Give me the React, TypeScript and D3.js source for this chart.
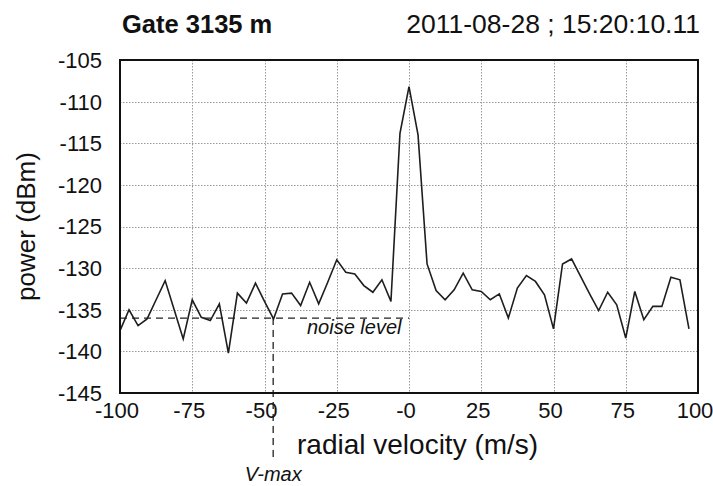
import { useEffect, useRef } from "react"
import * as d3 from "d3"

const velocities = [
  -100, -96.875, -93.75, -90.625, -87.5, -84.375, -81.25, -78.125,
  -75, -71.875, -68.75, -65.625, -62.5, -59.375, -56.25, -53.125,
  -50, -46.875, -43.75, -40.625, -37.5, -34.375, -31.25, -28.125,
  -25, -21.875, -18.75, -15.625, -12.5, -9.375, -6.25, -3.125,
  0, 3.125, 6.25, 9.375, 12.5, 15.625, 18.75, 21.875,
  25, 28.125, 31.25, 34.375, 37.5, 40.625, 43.75, 46.875,
  50, 53.125, 56.25, 59.375, 62.5, 65.625, 68.75, 71.875,
  75, 78.125, 81.25, 84.375, 87.5, 90.625, 93.75, 96.875,
]
const power = [
  -137.5, -135.0, -136.9, -136.1, -133.8, -131.5, -135.0, -138.5,
  -133.8, -135.9, -136.3, -134.3, -140.2, -133.0, -134.2, -131.8,
  -134.0, -136.1, -133.1, -133.0, -134.5, -131.7, -134.3, -131.7,
  -129.0, -130.5, -130.7, -132.1, -132.9, -131.4, -134.0, -113.8,
  -108.2, -114.0, -129.5, -132.7, -133.8, -132.6, -130.6, -132.6,
  -132.8, -133.8, -133.1, -136.0, -132.4, -130.9, -131.6, -133.2,
  -137.3, -129.5, -128.9, -131.0, -133.1, -135.1, -132.9, -134.4,
  -138.4, -132.8, -136.2, -134.6, -134.6, -131.1, -131.4, -137.3,
]
const xTicks = [-100, -75, -50, -25, 0, 25, 50, 75, 100]
const xTickLabels = ["-100", "-75", "-50", "-25", "-0", "25", "50", "75", "100"]
const yTicks = [-105, -110, -115, -120, -125, -130, -135, -140, -145]

const noiseLevel = -136
const vMax = -47

const FONT = "'Liberation Sans', Arial, sans-serif"

export default function App() {
  const svgRef = useRef<SVGSVGElement>(null)

  useEffect(() => {
    const svgEl = svgRef.current
    if (!svgEl) return
    const W = 713
    const H = 486
    const margin = { top: 60, right: 15, bottom: 93, left: 120 }

    const svg = d3.select(svgEl)
    svg.selectAll("*").remove()

    const x = d3.scaleLinear().domain([-100, 100]).range([margin.left, W - margin.right])
    const y = d3.scaleLinear().domain([-145, -105]).range([H - margin.bottom, margin.top])

    // grid
    const grid = svg.append("g").attr("stroke", "#9a9a9a").attr("stroke-width", 1)
      .attr("stroke-dasharray", "1.5,1.5")
    grid.selectAll("line.v").data(xTicks.slice(1, -1)).join("line")
      .attr("x1", d => Math.round(x(d)) + 0.5).attr("x2", d => Math.round(x(d)) + 0.5)
      .attr("y1", y(-105)).attr("y2", y(-145))
    grid.selectAll("line.h").data(yTicks.slice(1, -1)).join("line")
      .attr("class", "h")
      .attr("x1", x(-100)).attr("x2", x(100))
      .attr("y1", d => Math.round(y(d)) + 0.5).attr("y2", d => Math.round(y(d)) + 0.5)

    // noise level + V-max markers
    svg.append("line")
      .attr("x1", x(-100)).attr("x2", x(0))
      .attr("y1", y(noiseLevel)).attr("y2", y(noiseLevel))
      .attr("stroke", "#222").attr("stroke-width", 1.3).attr("stroke-dasharray", "7,5")
    svg.append("line")
      .attr("x1", x(vMax)).attr("x2", x(vMax))
      .attr("y1", y(noiseLevel)).attr("y2", 460)
      .attr("stroke", "#222").attr("stroke-width", 1.3).attr("stroke-dasharray", "7,5")

    // spectrum
    const line = d3.line<number>()
      .x((_, i) => x(velocities[i]))
      .y(d => y(d))
    svg.append("path")
      .attr("d", line(power) || "")
      .attr("fill", "none")
      .attr("stroke", "#1e1e1e")
      .attr("stroke-width", 1.6)
      .attr("stroke-linejoin", "miter")

    // frame
    svg.append("rect")
      .attr("x", x(-100)).attr("y", y(-105))
      .attr("width", x(100) - x(-100)).attr("height", y(-145) - y(-105))
      .attr("fill", "none").attr("stroke", "#111").attr("stroke-width", 2)

    // tick labels
    svg.append("g").selectAll("text").data(yTicks).join("text")
      .attr("x", 102).attr("y", d => y(d))
      .attr("dy", "0.36em")
      .attr("text-anchor", "end")
      .attr("font-family", FONT).attr("font-size", 22).attr("fill", "#111")
      .text(d => String(d))
    svg.append("g").selectAll("text").data(xTicks).join("text")
      .attr("x", d => x(d) - 3).attr("y", 418)
      .attr("text-anchor", "middle")
      .attr("font-family", FONT).attr("font-size", 22).attr("fill", "#111")
      .text((_, i) => xTickLabels[i])

    // axis titles
    svg.append("text")
      .attr("transform", `translate(35,${(y(-105) + y(-145)) / 2}) rotate(-90)`)
      .attr("text-anchor", "middle")
      .attr("font-family", FONT).attr("font-size", 26).attr("fill", "#111")
      .text("power (dBm)")
    svg.append("text")
      .attr("x", 297).attr("y", 454)
      .attr("font-family", FONT).attr("font-size", 28).attr("fill", "#111")
      .text("radial velocity (m/s)")

    svg.append("text")
      .attr("x", 307).attr("y", 334)
      .attr("font-family", FONT).attr("font-size", 20).attr("font-style", "italic").attr("fill", "#111")
      .text("noise level")
    svg.append("text")
      .attr("x", x(vMax)).attr("y", 481)
      .attr("text-anchor", "middle")
      .attr("font-family", FONT).attr("font-size", 20).attr("font-style", "italic").attr("fill", "#111")
      .text("V-max")

    // header
    svg.append("text")
      .attr("x", 122).attr("y", 33)
      .attr("font-family", FONT).attr("font-size", 25.5).attr("font-weight", "bold").attr("fill", "#111")
      .text("Gate 3135 m")
    svg.append("text")
      .attr("x", 700).attr("y", 33)
      .attr("text-anchor", "end")
      .attr("font-family", FONT).attr("font-size", 26.5).attr("fill", "#111")
      .text("2011-08-28 ; 15:20:10.11")
  }, [])

  return (
    <svg ref={svgRef} width={713} height={486}
      style={{ position: "absolute", left: 0, top: 0, background: "#fff" }} />
  )
}
